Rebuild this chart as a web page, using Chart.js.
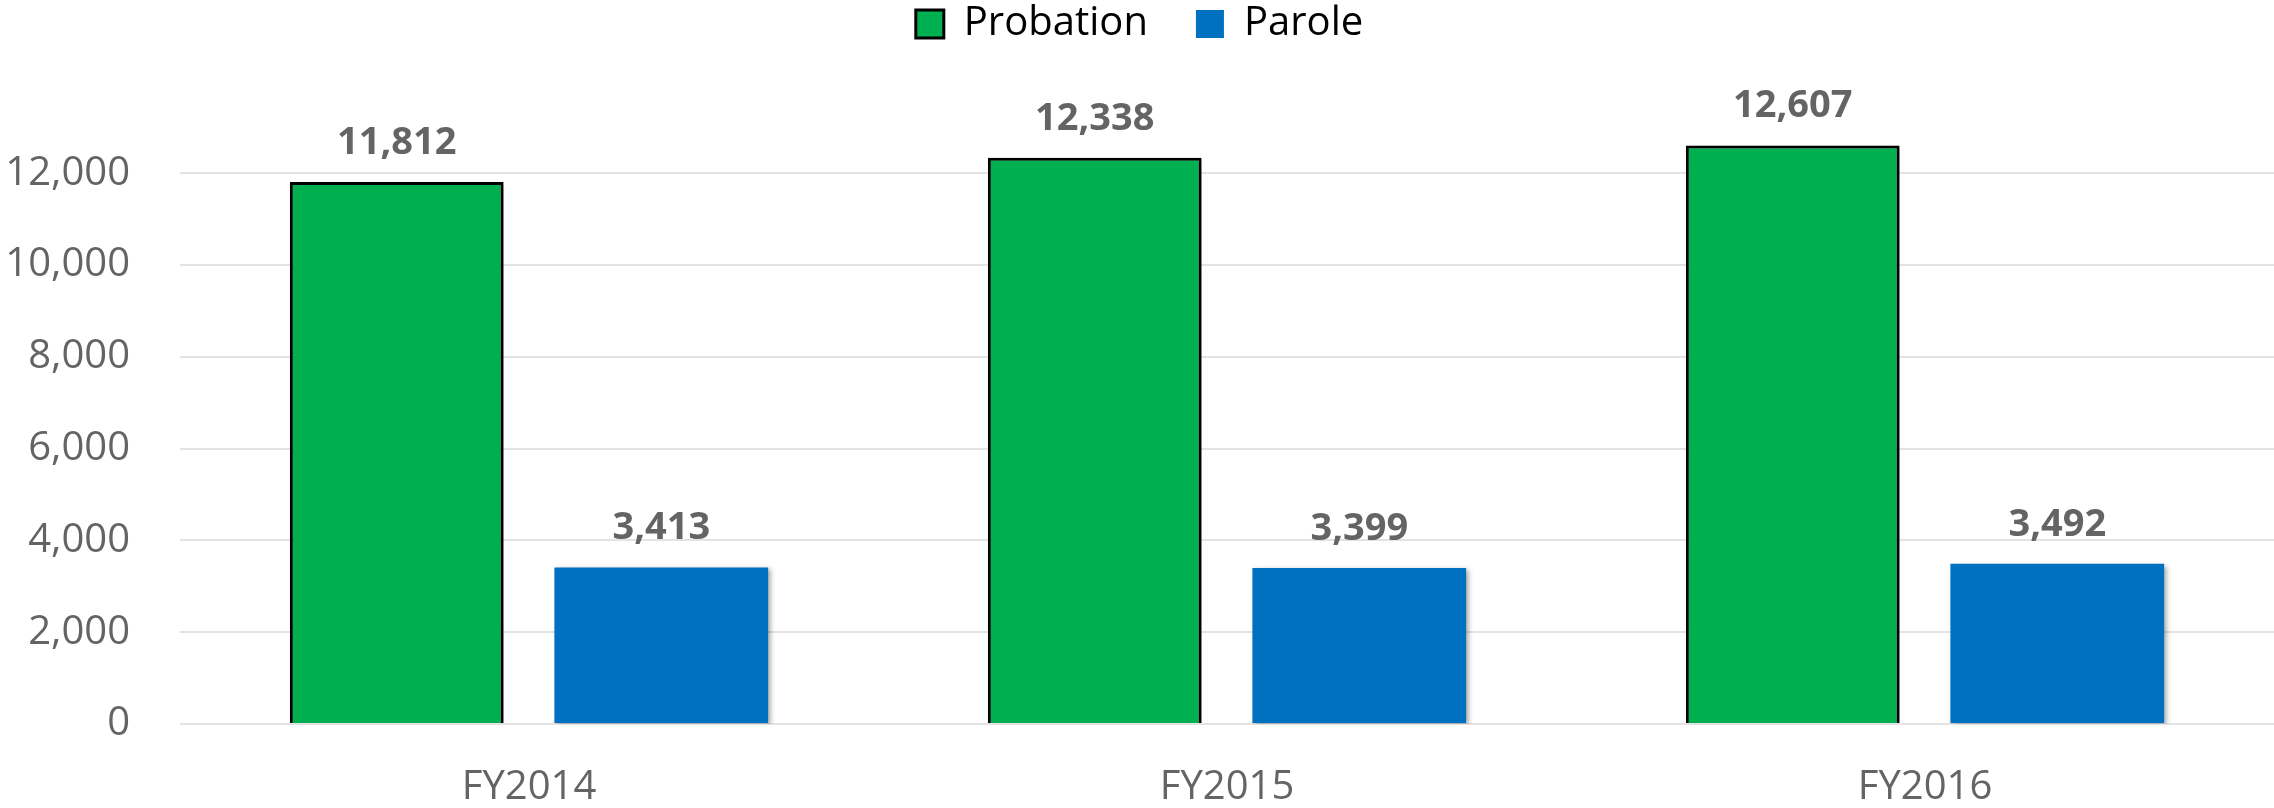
<!DOCTYPE html>
<html>
<head>
<meta charset="utf-8">
<script src="https://cdn.jsdelivr.net/npm/chart.js@4.4.1/dist/chart.umd.min.js"></script>
<style>
  html, body { margin: 0; padding: 0; background: #fff; overflow: hidden; }
  #wrap { width: 2274px; height: 808px; overflow: hidden; }
  /* legend sits higher than chart.js puts it, so pull the canvas up a bit */
  #chart { display: block; margin-top: -44px; }
</style>
</head>
<body>
<div id="wrap"><canvas id="chart" width="2274" height="852"></canvas></div>
<script>
// data
const years = ["FY2014", "FY2015", "FY2016"];
const probation = [11812, 12338, 12607];
const parole = [3413, 3399, 3492];
const yTicks = [0, 2000, 4000, 6000, 8000, 10000, 12000];

const GREY = "#666363";
const FONT = "'Open Sans', 'Liberation Sans', sans-serif";

// soft shadow behind bars, like the office chart
const shadowPlugin = {
    id: "barShadow",
    beforeDatasetsDraw(chart) {
        const ctx = chart.ctx;
        ctx.save();
        ctx.shadowColor = "rgba(0,0,0,0.35)";
        ctx.shadowBlur = 5;
        ctx.shadowOffsetX = 3;
        ctx.shadowOffsetY = 2;
    },
    afterDatasetsDraw(chart) {
        chart.ctx.restore();
    }
};

// value labels above the bars
const valueLabels = {
    id: "valueLabels",
    afterDraw(chart) {
        const ctx = chart.ctx;
        ctx.save();
        ctx.font = "bold 38px " + FONT;
        ctx.fillStyle = GREY;
        ctx.textAlign = "center";
        ctx.textBaseline = "alphabetic";
        chart.data.datasets.forEach((ds, i) => {
            chart.getDatasetMeta(i).data.forEach((bar, j) => {
                ctx.fillText(ds.data[j].toLocaleString("en-US"), bar.x, bar.y - 28);
            });
        });
        ctx.restore();
    }
};

new Chart(document.getElementById("chart"), {
    type: "bar",
    data: {
        labels: years,
        datasets: [
            {
                label: "Probation",
                data: probation,
                backgroundColor: "#00B050",
                borderColor: "#000000",
                borderWidth: 3,
                barPercentage: 0.808,
                categoryPercentage: 0.758
            },
            {
                label: "Parole",
                data: parole,
                backgroundColor: "#0070C0",
                borderColor: "#0070C0",
                borderWidth: 0,
                barPercentage: 0.808,
                categoryPercentage: 0.758
            }
        ]
    },
    options: {
        responsive: false,
        animation: false,
        layout: { padding: { left: 5, right: 0, top: 0, bottom: 0 } },
        plugins: {
            legend: {
                position: "top",
                labels: {
                    font: { family: FONT, size: 40 },
                    color: "#000",
                    boxWidth: 28,
                    boxHeight: 28,
                    padding: 48
                }
            },
            tooltip: { enabled: false }
        },
        scales: {
            x: {
                grid: { display: false, drawTicks: false },
                border: { display: false },
                ticks: { font: { family: FONT, size: 40 }, color: GREY, padding: 40 },
                afterFit: (s) => { s.height = 84; }
            },
            y: {
                min: 0,
                max: 14600,
                afterBuildTicks: (s) => { s.ticks = yTicks.map((v) => ({ value: v })); },
                ticks: {
                    padding: 50,
                    font: { family: FONT, size: 40 },
                    color: GREY,
                    callback: (v) => v.toLocaleString("en-US")
                },
                grid: { drawTicks: false, lineWidth: 2, color: "#e3e3e3" },
                border: { display: false },
                afterFit: (s) => { s.width = 175; }
            }
        }
    },
    plugins: [shadowPlugin, valueLabels]
});
</script>
</body>
</html>
